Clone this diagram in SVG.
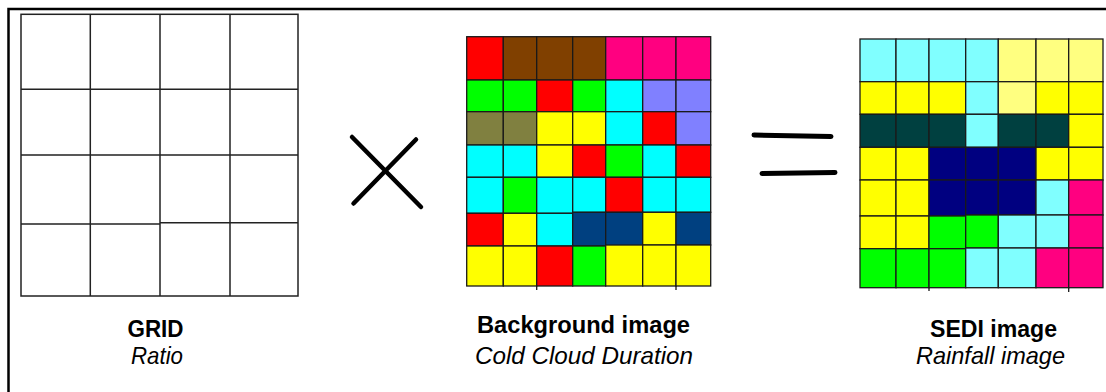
<svg xmlns="http://www.w3.org/2000/svg" width="1106" height="392" viewBox="0 0 1106 392">
<style>
.c rect{stroke:#1a1a1a;stroke-width:1.3}
.R{fill:#ff0000}.B{fill:#804000}.M{fill:#ff0080}.G{fill:#00ff00}.C{fill:#00ffff}.P{fill:#8080ff}.O{fill:#808040}.Y{fill:#ffff00}.N{fill:#004080}
.LC{fill:#80ffff}.LY{fill:#ffff80}.T{fill:#004040}.V{fill:#000080}
.gl{stroke:#222;stroke-width:1.5;fill:none}
.op{stroke:#000;stroke-linecap:round;fill:none}
.b{font-family:"Liberation Sans",Arial,sans-serif;font-weight:bold;font-size:24px;text-anchor:middle;fill:#000}
.i{font-family:"Liberation Sans",Arial,sans-serif;font-style:italic;font-size:24px;text-anchor:middle;fill:#000}
</style>
<rect width="1106" height="392" fill="#fff"/>
<g id="frame"><path d="M8.5,392 V9 H1106" stroke="#000" stroke-width="2.5" fill="none"/></g>
<g id="grid">
<rect x="21" y="14.3" width="277" height="281.7" class="gl"/>
<path class="gl" d="M90.3,14.3V296M160,14.3V296M230,14.3V296M21,89.3H298M21,155H298M21,224H160M160,222.7H298"/>
<text class="b" x="155.5" y="337" textLength="56" lengthAdjust="spacingAndGlyphs">GRID</text>
<text class="i" x="157" y="364" textLength="52" lengthAdjust="spacingAndGlyphs">Ratio</text>
</g>
<g id="times"><path class="op" stroke-width="4.5" d="M352,137L421,207M416,139.5L353.5,203.5"/></g>
<g id="background" class="c">
<rect class="R" x="466.7" y="36.7" width="36.6" height="43.3"/><rect class="B" x="503.3" y="36.7" width="33.4" height="43.3"/><rect class="B" x="536.7" y="36.7" width="36" height="43.3"/><rect class="B" x="572.7" y="36.7" width="33" height="43.3"/><rect class="M" x="605.7" y="36.7" width="37" height="43.3"/><rect class="M" x="642.7" y="36.7" width="33.3" height="43.3"/><rect class="M" x="676" y="36.7" width="34.7" height="43.3"/>
<rect class="G" x="466.7" y="80" width="36.6" height="31.7"/><rect class="G" x="503.3" y="80" width="33.4" height="31.7"/><rect class="R" x="536.7" y="80" width="36" height="31.7"/><rect class="G" x="572.7" y="80" width="33" height="31.7"/><rect class="C" x="605.7" y="80" width="37" height="31.7"/><rect class="P" x="642.7" y="80" width="33.3" height="31.7"/><rect class="P" x="676" y="80" width="34.7" height="31.7"/>
<rect class="O" x="466.7" y="111.7" width="36.6" height="33.3"/><rect class="O" x="503.3" y="111.7" width="33.4" height="33.3"/><rect class="Y" x="536.7" y="111.7" width="36" height="33.3"/><rect class="Y" x="572.7" y="111.7" width="33" height="33.3"/><rect class="C" x="605.7" y="111.7" width="37" height="33.3"/><rect class="R" x="642.7" y="111.7" width="33.3" height="33.3"/><rect class="P" x="676" y="111.7" width="34.7" height="33.3"/>
<rect class="C" x="466.7" y="145" width="36.6" height="32.3"/><rect class="C" x="503.3" y="145" width="33.4" height="32.3"/><rect class="Y" x="536.7" y="145" width="36" height="32.3"/><rect class="R" x="572.7" y="145" width="33" height="32.3"/><rect class="G" x="605.7" y="145" width="37" height="32.3"/><rect class="C" x="642.7" y="145" width="33.3" height="32.3"/><rect class="R" x="676" y="145" width="34.7" height="32.3"/>
<rect class="C" x="466.7" y="177.3" width="36.6" height="36"/><rect class="G" x="503.3" y="177.3" width="33.4" height="36"/><rect class="C" x="536.7" y="177.3" width="36" height="36"/><rect class="C" x="572.7" y="177.3" width="33" height="35"/><rect class="R" x="605.7" y="177.3" width="37" height="35"/><rect class="C" x="642.7" y="177.3" width="33.3" height="35"/><rect class="C" x="676" y="177.3" width="34.7" height="35"/>
<rect class="R" x="466.7" y="213.3" width="36.6" height="32.7"/><rect class="Y" x="503.3" y="213.3" width="33.4" height="32.7"/><rect class="C" x="536.7" y="213.3" width="36" height="32.7"/><rect class="N" x="572.7" y="212.3" width="33" height="33.7"/><rect class="N" x="605.7" y="212.3" width="37" height="33.7"/><rect class="Y" x="642.7" y="212.3" width="33.3" height="32.7"/><rect class="N" x="676" y="212.3" width="34.7" height="32.7"/>
<rect class="Y" x="466.7" y="246" width="36.6" height="40"/><rect class="Y" x="503.3" y="246" width="33.4" height="40"/><rect class="R" x="536.7" y="246" width="36" height="40"/><rect class="G" x="572.7" y="246" width="33" height="40"/><rect class="Y" x="605.7" y="245" width="37" height="41"/><rect class="Y" x="642.7" y="245" width="33.3" height="41"/><rect class="Y" x="676" y="245" width="34.7" height="41"/>
<path d="M536.7,286V290M676,286V290" stroke="#1a1a1a" stroke-width="1.3"/>
<text class="b" x="583.5" y="333" textLength="213" lengthAdjust="spacingAndGlyphs">Background image</text>
<text class="i" x="584" y="364" textLength="218" lengthAdjust="spacingAndGlyphs">Cold Cloud Duration</text>
</g>
<g id="equals"><path class="op" stroke-width="5" d="M754,135L831,136.5M762,173.5L835,172.5"/></g>
<g id="sedi" class="c">
<rect class="LC" x="860" y="39" width="36" height="42.7"/><rect class="LC" x="896" y="39" width="33" height="42.7"/><rect class="LC" x="929" y="39" width="36.7" height="42.7"/><rect class="LC" x="965.7" y="39" width="32.6" height="42.7"/><rect class="LY" x="998.3" y="39" width="37.7" height="42.7"/><rect class="LY" x="1036" y="39" width="32.7" height="42.7"/><rect class="LY" x="1068.7" y="39" width="34.3" height="42.7"/>
<rect class="Y" x="860" y="81.7" width="36" height="32.6"/><rect class="Y" x="896" y="81.7" width="33" height="32.6"/><rect class="Y" x="929" y="81.7" width="36.7" height="32.6"/><rect class="LC" x="965.7" y="81.7" width="32.6" height="32.6"/><rect class="LY" x="998.3" y="81.7" width="37.7" height="32.6"/><rect class="Y" x="1036" y="81.7" width="32.7" height="32.6"/><rect class="Y" x="1068.7" y="81.7" width="34.3" height="32.6"/>
<rect class="T" x="860" y="114.3" width="36" height="33"/><rect class="T" x="896" y="114.3" width="33" height="33"/><rect class="T" x="929" y="114.3" width="36.7" height="33"/><rect class="LC" x="965.7" y="114.3" width="32.6" height="33"/><rect class="T" x="998.3" y="114.3" width="37.7" height="33"/><rect class="T" x="1036" y="114.3" width="32.7" height="33"/><rect class="Y" x="1068.7" y="114.3" width="34.3" height="33"/>
<rect class="Y" x="860" y="147.3" width="36" height="32.7"/><rect class="Y" x="896" y="147.3" width="33" height="32.7"/><rect class="V" x="929" y="147.3" width="36.7" height="32.7"/><rect class="V" x="965.7" y="147.3" width="32.6" height="32.7"/><rect class="V" x="998.3" y="147.3" width="37.7" height="32.7"/><rect class="Y" x="1036" y="147.3" width="32.7" height="32.7"/><rect class="Y" x="1068.7" y="147.3" width="34.3" height="32.7"/>
<rect class="Y" x="860" y="180" width="36" height="36"/><rect class="Y" x="896" y="180" width="33" height="36"/><rect class="V" x="929" y="180" width="36.7" height="36"/><rect class="V" x="965.7" y="180" width="32.6" height="35"/><rect class="V" x="998.3" y="180" width="37.7" height="35"/><rect class="LC" x="1036" y="180" width="32.7" height="35"/><rect class="M" x="1068.7" y="180" width="34.3" height="35"/>
<rect class="Y" x="860" y="216" width="36" height="32.7"/><rect class="Y" x="896" y="216" width="33" height="32.7"/><rect class="G" x="929" y="216" width="36.7" height="32.7"/><rect class="G" x="965.7" y="215" width="32.6" height="33"/><rect class="LC" x="998.3" y="215" width="37.7" height="33"/><rect class="LC" x="1036" y="215" width="32.7" height="33"/><rect class="M" x="1068.7" y="215" width="34.3" height="33"/>
<rect class="G" x="860" y="248.7" width="36" height="39"/><rect class="G" x="896" y="248.7" width="33" height="39"/><rect class="G" x="929" y="248.7" width="36.7" height="39"/><rect class="LC" x="965.7" y="248" width="32.6" height="39.7"/><rect class="LC" x="998.3" y="248" width="37.7" height="39.7"/><rect class="M" x="1036" y="248" width="32.7" height="39.7"/><rect class="M" x="1068.7" y="248" width="34.3" height="39.7"/>
<path d="M929,287.7V291M1068.7,287.7V292" stroke="#1a1a1a" stroke-width="1.3"/>
<text class="b" x="993.5" y="337" textLength="127" lengthAdjust="spacingAndGlyphs">SEDI image</text>
<text class="i" x="990.5" y="364" textLength="149" lengthAdjust="spacingAndGlyphs">Rainfall image</text>
</g>
</svg>
